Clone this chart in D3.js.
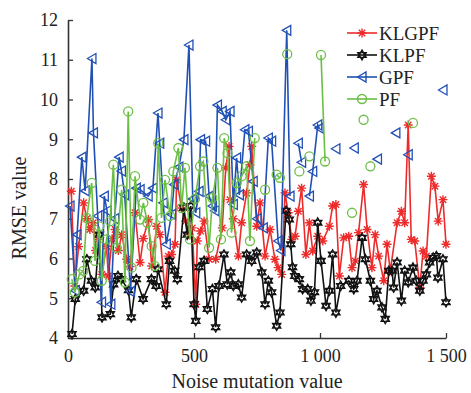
<!DOCTYPE html>
<html>
<head>
<meta charset="utf-8">
<script src="https://cdn.jsdelivr.net/npm/d3@7"></script>
<style>
  body { margin: 0; background: #fff; }
  text { font-family: "Liberation Serif", "Times New Roman", serif; fill: #222; }
</style>
</head>
<body>
<div id="chart"></div>
<script>
// series data (null = gap in the line)
var klgpfX = [13,27,42,62,74,87,100,110,120,134,153,160,175,187,200,213,233,246,266,286,299,319,332,352,365,385,398,411,425,431,451,467,480,493,507,513,526,540,560,586,612,626,639,643,656,676,689,709,722,729,749,762,782,802,821,834,848,861,874,888,901,914,927,944,958,971,991,1011,1037,1050,1063,1077,1094,1114,1127,1140,1153,1173,1187,1206,1219,1233,1253,1266,1279,1306,1323,1336,1350,1362,1376,1396,1409,1422,1442,1456,1469,1488,1500];
var klgpfY = [7.69,5.31,6.3,7.4,7.0,6.73,6.9,6.2,6.48,5.6,6.31,5.56,6.5,6.73,6.2,6.6,5.98,5.8,7.15,5.9,6.5,6.98,5.81,6.81,6.6,5.15,6.06,6.1,6.36,7.98,7.27,6.94,6.6,6.77,4.85,6.44,6.69,6.94,5.98,5.98,6.77,8.28,8.82,7.48,7.0,6.06,6.9,7.65,8.36,8.82,6.81,7.4,6.06,6.73,5.98,5.77,5.6,7.65,7.15,6.48,6.56,7.19,7.77,6.1,6.9,6.19,6.56,6.44,6.81,7.32,7.36,5.56,6.52,6.56,5.77,5.94,6.65,7.86,6.73,5.77,6.6,6.06,5.44,6.36,5.69,6.9,7.19,6.9,9.36,6.48,6.44,5.27,6.19,6.06,8.07,7.82,6.94,7.48,6.36];

var klpfX = [16,29,62,75,93,108,124,135,168,181,198,212,240,251,271,298,331,350,357,390,403,423,434,460,473,487,500,507,520,540,553,573,586,599,619,632,646,656,676,689,709,729,749,769,782,795,808,828,841,865,878,884,891,900,918,931,951,964,978,991,1004,1024,1037,1050,1063,1082,1114,1134,1147,1167,1180,1200,1213,1226,1246,1259,1273,1286,1292,1306,1323,1336,1350,1369,1382,1396,1409,1422,1435,1449,1462,1468,1488,1500];
var klpfY = [4.1,4.98,5.19,5.98,5.44,5.27,6.6,4.52,4.6,5.35,5.56,5.48,5.2,4.52,5.48,4.98,5.48,5.31,5.73,4.85,5.94,5.69,5.48,7.28,6.6,7.32,4.85,4.43,5.78,5.94,4.73,5.23,4.27,5.31,6.1,5.35,5.65,5.31,5.35,5.02,6.1,5.94,6.15,5.65,4.85,5.44,5.15,4.31,4.64,7.2,6.98,6.36,5.78,5.56,5.48,5.23,5.23,4.94,5.15,6.9,5.94,4.81,5.19,6.1,4.64,5.31,5.44,5.23,5.44,6.52,5.98,5.44,4.98,5.19,4.77,4.48,5.69,5.69,5.27,5.9,4.94,5.69,5.4,5.77,5.44,5.19,5.44,5.6,5.9,6.02,6.06,5.52,5.98,4.9];

var gpfX = [8,29,36,55,68,95,101,118,133,144,155,170,185,203,212,225,248,271,286,318,337,357,364,378,390,411,421,440,460,480,495,507,520,526,546,560,573,583,593,612,626,643,656,669,680,702,716,735,750,775,795,808,834,845,868,881,895,914,927,940,958,971,991,997,1030,1063,1100,1136,1180,1228,1260,1301,1320,1350,1420,1488];
var gpfY = [7.32,5.19,6.6,8.55,7.7,11.03,9.16,7.07,4.9,7.57,7.2,4.85,7.0,8.55,8.2,7.6,5.17,7.77,7.73,7.57,7.77,9.66,8.9,7.4,6.36,7.11,7.86,8.3,8.99,11.37,7.5,7.15,7.69,8.99,8.95,7.57,7.32,7.2,9.86,9.7,9.49,9.7,7.36,8.53,7.6,9.24,9.2,7.94,7.0,6.77,9.03,8.95,6.44,6.2,11.74,7.57,null,8.9,8.42,null,7.57,8.19,9.36,9.28,null,8.76,null,8.78,null,8.5,null,9.16,null,8.61,null,10.24];

var pfX = [15,27,45,61,74,94,107,124,134,153,167,180,193,213,226,239,252,266,286,299,315,332,345,358,371,385,405,418,438,451,464,484,504,524,537,560,573,593,607,620,633,649,669,689,709,722,741,760,782,805,828,841,855,870,895,918,940,958,980,1004,1020,1080,1127,1150,1173,1190,1200,1300,1369];
var pfY = [5.48,5.15,5.6,5.69,7.02,7.9,5.94,6.81,5.44,6.48,6.94,8.36,6.27,7.73,5.4,9.7,5.77,8.07,6.98,7.4,6.9,6.31,5.81,8.9,7.02,7.98,7.07,8.19,8.78,7.27,8.28,6.48,7.5,8.32,8.44,6.27,7.52,8.28,6.48,9.03,8.65,6.65,7.9,8.07,8.32,6.44,9.03,null,7.73,null,8.11,8.03,null,11.14,null,8.19,null,8.57,null,11.12,8.44,null,7.15,null,9.49,null,8.32,null,9.41];

var seriesNames = ["KLGPF", "KLPF", "GPF", "PF"];
var seriesColors = ["#ee2b2b", "#111111", "#2150b5", "#6cbf45"];
var xTicks = [0, 500, 1000, 1500];
var xTickLabels = ["0", "500", "1 000", "1 500"];
var yTicks = [4, 5, 6, 7, 8, 9, 10, 11, 12];

var width = 471, height = 393;

var svg = d3.select("#chart")
  .append("svg")
  .attr("width", width)
  .attr("height", height);

var x = d3.scaleLinear().domain([0, 1500]).range([68, 446]);
var y = d3.scaleLinear().domain([4, 12]).range([338, 20]);

// axes with inward ticks
var xAxis = d3.axisBottom(x)
  .tickValues(xTicks)
  .tickFormat(function (d, i) { return xTickLabels[i]; })
  .tickSizeInner(-5)
  .tickSizeOuter(0)
  .tickPadding(11);

var yAxis = d3.axisLeft(y)
  .tickValues(yTicks)
  .tickSizeInner(-5)
  .tickSizeOuter(0)
  .tickPadding(10);

var gx = svg.append("g")
  .attr("transform", "translate(0," + y(4) + ")")
  .call(xAxis);
var gy = svg.append("g")
  .attr("transform", "translate(" + x(0) + ",0)")
  .call(yAxis);

[gx, gy].forEach(function (g) {
  g.select(".domain").attr("stroke", "#333").attr("stroke-width", 1.6);
  g.selectAll(".tick line").attr("stroke", "#333").attr("stroke-width", 1.3);
  g.selectAll(".tick text")
    .style("font-family", "Liberation Serif, Times New Roman, serif")
    .style("font-size", "18px")
    .attr("fill", "#222");
});

// axis titles
svg.append("text")
  .attr("x", 257)
  .attr("y", 388)
  .attr("text-anchor", "middle")
  .style("font-size", "20px")
  .text("Noise mutation value");

svg.append("text")
  .attr("transform", "translate(26,208) rotate(-90)")
  .attr("text-anchor", "middle")
  .style("font-size", "20px")
  .text("RMSE value");

// marker paths, centred on 0,0
function markerPath(name) {
  if (name === "KLGPF") {
    var r = 4.5, d = r * 0.72;
    return "M" + (-r) + ",0L" + r + ",0M0," + (-r) + "L0," + r +
      "M" + (-d) + "," + (-d) + "L" + d + "," + d +
      "M" + (-d) + "," + d + "L" + d + "," + (-d);
  }
  if (name === "KLPF") {
    var s = 4.8, h = s * 0.5, w = s * 0.866;
    return "M0," + (-s) + "L" + w + "," + h + "L" + (-w) + "," + h + "Z" +
      "M0," + s + "L" + w + "," + (-h) + "L" + (-w) + "," + (-h) + "Z";
  }
  if (name === "GPF") {
    return "M-4.5,0L4,-5L4,5Z";
  }
  return d3.symbol().type(d3.symbolCircle).size(64)();
}

var allX = [klgpfX, klpfX, gpfX, pfX];
var allY = [klgpfY, klpfY, gpfY, pfY];

var line = d3.line()
  .defined(function (d) { return d[1] !== null; })
  .x(function (d) { return x(d[0]); })
  .y(function (d) { return y(d[1]); });

seriesNames.forEach(function (name, i) {
  var pts = allX[i].map(function (v, j) { return [v, allY[i][j]]; });
  var g = svg.append("g");

  g.append("path")
    .datum(pts)
    .attr("d", line)
    .attr("fill", "none")
    .attr("stroke", seriesColors[i])
    .attr("stroke-width", 1.6);

  g.selectAll("path.mk")
    .data(pts.filter(function (d) { return d[1] !== null; }))
    .enter()
    .append("path")
    .attr("class", "mk")
    .attr("d", markerPath(name))
    .attr("transform", function (d) { return "translate(" + x(d[0]) + "," + y(d[1]) + ")"; })
    .attr("fill", name === "KLPF" ? "#fff" : "none")
    .attr("stroke", seriesColors[i])
    .attr("stroke-width", name === "KLGPF" ? 1.4 : 1.3);
});

// legend
var legend = svg.append("g").attr("transform", "translate(347,33)");
seriesNames.forEach(function (name, i) {
  var row = legend.append("g").attr("transform", "translate(0," + (i * 22) + ")");
  row.append("line")
    .attr("x1", 0).attr("x2", 30)
    .attr("stroke", seriesColors[i])
    .attr("stroke-width", 1.6);
  row.append("path")
    .attr("d", markerPath(name))
    .attr("transform", "translate(15,0)")
    .attr("fill", name === "KLPF" ? "#fff" : "none")
    .attr("stroke", seriesColors[i])
    .attr("stroke-width", 1.4);
  row.append("text")
    .attr("x", 32)
    .attr("y", 6.5)
    .style("font-size", "19px")
    .text(name);
});
</script>
</body>
</html>
